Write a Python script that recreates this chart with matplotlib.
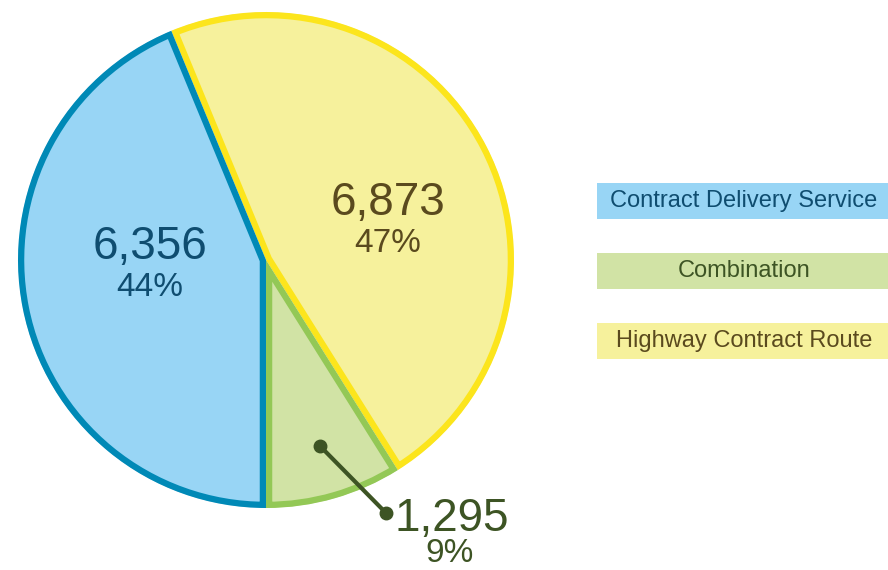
import numpy as np
import matplotlib
matplotlib.use("Agg")
from matplotlib import pyplot as plt
from matplotlib.patches import Rectangle

plt.rcParams['font.family'] = ['Liberation Sans', 'DejaVu Sans']

# data (legend order)
categories = ["Contract Delivery Service", "Combination", "Highway Contract Route"]
counts = [6356, 1295, 6873]

fills = ["#98d5f5", "#d1e3a5", "#f6f19c"]
edges = ["#0089b6", "#93c856", "#fce51c"]
text_cols = ["#0f4d70", "#3d5424", "#5a4a1e"]

W, H = 888, 570
fig = plt.figure(figsize=(W / 100, H / 100), dpi=100)

# pie axes: centre at pixel (266, 260), radius 248 px
R = 248.0
cx, cy = 266.0, 260.0
ax = fig.add_axes([0, 0, 1, 1])

# draw clockwise from top: Highway, Combination, CDS; Combination ends at the bottom
order = [2, 1, 0]
vals = np.array([counts[i] for i in order], dtype=float)
fr = vals / vals.sum()
start = -90 + (fr[0] + fr[1]) * 360

wedges, _ = ax.pie(vals, radius=1, startangle=start, counterclock=False,
                   colors=[fills[i] for i in order], center=(0, 0), frame=True)
ax.set_xlim(-cx / R, (W - cx) / R)
ax.set_ylim(-(H - cy) / R, cy / R)
ax.axis("off")
for w, i in zip(wedges, order):
    w.set_edgecolor(edges[i])
    w.set_linewidth(9)
    w.set_clip_path(w)
    w.set_clip_on(True)

total = sum(counts)
pcts = [f"{round(c / total * 100):.0f}%" for c in counts]

big, small = 33, 24
# CDS label
ax.text(-116 / R, 13 / R, f"{counts[0]:,}", ha="center", va="center",
        fontsize=big, color=text_cols[0])
ax.text(-116 / R, -27 / R, pcts[0], ha="center", va="center",
        fontsize=small, color=text_cols[0])
# Highway label
ax.text(122 / R, 57 / R, f"{counts[2]:,}", ha="center", va="center",
        fontsize=big, color=text_cols[2])
ax.text(122 / R, 17 / R, pcts[2], ha="center", va="center",
        fontsize=small, color=text_cols[2])
# Combination label with leader
p0 = (54 / R, -186 / R)
p1 = (120 / R, -253 / R)
ax.plot([p0[0], p1[0]], [p0[1], p1[1]], color="#3d5424", lw=3,
        marker="o", markersize=9, solid_capstyle="round")
ax.text(128 / R, -259 / R, f"{counts[1]:,}", ha="left", va="center",
        fontsize=big, color=text_cols[1])
ax.text(184 / R, -294 / R, pcts[1], ha="center", va="center",
        fontsize=small, color=text_cols[1])

# legend boxes
box_tops = [183, 253, 323]
bx, bw, bh = 597, 310, 36
for i, top in enumerate(box_tops):
    fig.patches.append(Rectangle((bx / W, (H - top - bh) / H), bw / W, bh / H,
                                 transform=fig.transFigure, facecolor=fills[i],
                                 edgecolor="none"))
    fig.text((bx + bw / 2 - 8) / W, (H - top - bh / 2) / H, categories[i],
             ha="center", va="center", fontsize=17, color=text_cols[i])

fig.savefig("out.png", dpi=100)
